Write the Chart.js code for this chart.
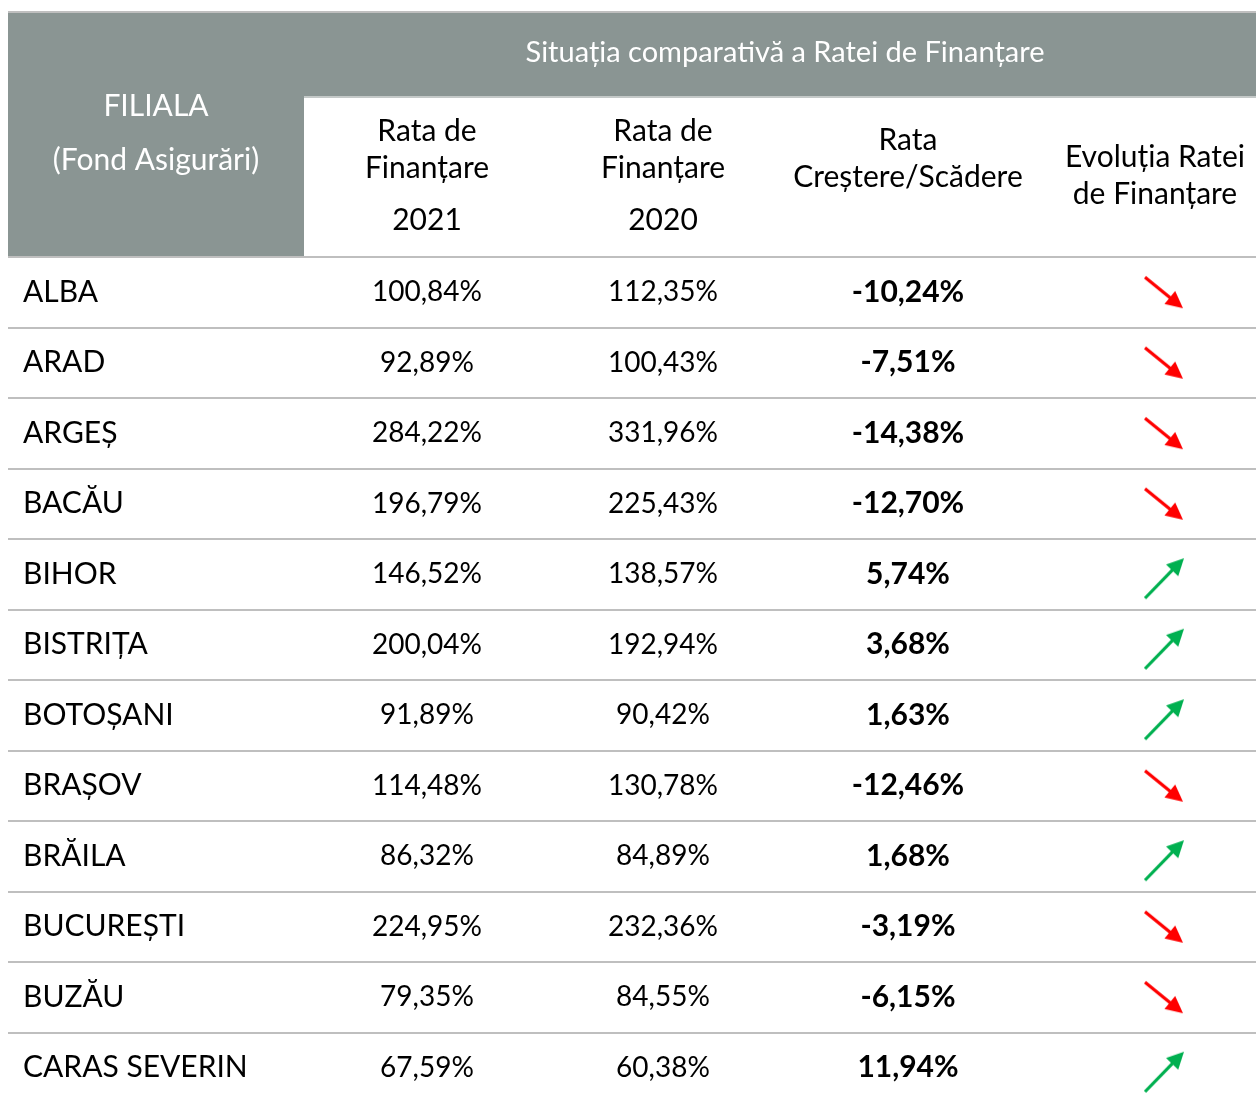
<!DOCTYPE html>
<html><head><meta charset="utf-8">
<script src="https://cdn.jsdelivr.net/npm/chart.js@4/dist/chart.umd.min.js"></script>
<style>html,body{margin:0;padding:0;background:#fff;overflow:hidden}#wrap{width:1256px;height:1110px}</style>
</head><body><div id="wrap"><canvas id="c" width="1256" height="1110"></canvas></div>
<script>
// ---- data ----
const branches = ['ALBA','ARAD','ARGEȘ','BACĂU','BIHOR','BISTRIȚA','BOTOȘANI','BRAȘOV','BRĂILA','BUCUREȘTI','BUZĂU','CARAS SEVERIN'];
const rate2021 = [100.84,92.89,284.22,196.79,146.52,200.04,91.89,114.48,86.32,224.95,79.35,67.59];
const rate2020 = [112.35,100.43,331.96,225.43,138.57,192.94,90.42,130.78,84.89,232.36,84.55,60.38];
const changeRate = [-10.24,-7.51,-14.38,-12.70,5.74,3.68,1.63,-12.46,1.68,-3.19,-6.15,11.94];
const titleText = 'Situația comparativă a Ratei de Finanțare';
const rowHeaderText = ['FILIALA','(Fond Asigurări)'];
const colHeaderText = [['Rata de','Finanțare','2021'],['Rata de','Finanțare','2020'],['Rata','Creștere/Scădere'],['Evoluția Ratei','de Finanțare']];

// ---- layout / style ----
const FONT = 'Lato, "Open Sans", sans-serif';
const HEAD_GRAY = '#8a9593';
const LINE_GRAY = '#bfbfbf';
const colX = {name: 23, c2021: 427, c2020: 663, change: 908, trend: 1164};
const fmt = v => v.toFixed(2).replace('.', ',') + '%';

function arrowCanvas(up) {
  const s = 56, c = document.createElement('canvas');
  c.width = s; c.height = s;
  const g = c.getContext('2d');
  const col = up ? '#00b050' : '#ff0000';
  const cx = s/2, cy = s/2;
  let tail, tip;
  if (up) { tail = [cx-19, cy+24]; tip = [cx+20, cy-16]; }
  else    { tail = [cx-19, cy-15]; tip = [cx+19, cy+16]; }
  const dx = tip[0]-tail[0], dy = tip[1]-tail[1], L = Math.hypot(dx, dy);
  const ux = dx/L, uy = dy/L, px = -uy, py = ux;
  const hl = 17, hw = 8.5;
  const bx = tip[0]-ux*hl, by = tip[1]-uy*hl;
  g.strokeStyle = col; g.lineWidth = 3.2; g.lineCap = 'butt';
  g.beginPath(); g.moveTo(tail[0], tail[1]); g.lineTo(bx+ux*2, by+uy*2); g.stroke();
  g.fillStyle = col;
  g.beginPath(); g.moveTo(tip[0], tip[1]); g.lineTo(bx+px*hw, by+py*hw); g.lineTo(bx-px*hw, by-py*hw); g.closePath(); g.fill();
  return c;
}
const upArrow = arrowCanvas(true), downArrow = arrowCanvas(false);

const headerPlugin = {
  id: 'header',
  beforeDraw(chart) {
    const ctx = chart.ctx, a = chart.chartArea;
    const top = 11, subTop = 96, leftW = 304;
    ctx.save();
    ctx.fillStyle = LINE_GRAY; ctx.fillRect(a.left, top, a.right - a.left, 2);
    ctx.fillStyle = HEAD_GRAY; ctx.fillRect(a.left, top + 2, a.right - a.left, a.top - top - 2);
    ctx.fillStyle = '#fff'; ctx.fillRect(leftW, subTop + 1, a.right - leftW, a.top - subTop - 1);
    ctx.fillStyle = '#c4c9c8'; ctx.fillRect(leftW, subTop, a.right - leftW, 2);
    ctx.textAlign = 'center'; ctx.textBaseline = 'middle';
    ctx.fillStyle = '#fff';
    ctx.font = '29px ' + FONT;
    ctx.fillText(titleText, 785, 53);
    ctx.font = '30px ' + FONT;
    ctx.fillText(rowHeaderText[0], 156, 106);
    ctx.fillText(rowHeaderText[1], 156, 160);
    ctx.fillStyle = '#000';
    const xs = chart.scales.x;
    const hx = [colX.c2021, colX.c2020, colX.change, 1155];
    const hy = [[131,168,220],[131,168,220],[140,177],[157,194]];
    colHeaderText.forEach((lines, i) => {
      lines.forEach((t, j) => ctx.fillText(t, xs.getPixelForValue(hx[i]), hy[i][j]));
    });
    ctx.restore();
  },
  afterDatasetsDraw(chart) {
    const ctx = chart.ctx;
    ctx.save();
    ctx.textBaseline = 'middle';
    ctx.fillStyle = '#000';
    chart.data.datasets.forEach((ds, di) => {
      if (!ds.textCol) return;
      const meta = chart.getDatasetMeta(di);
      ctx.font = (ds.bold ? '700 ' : '') + (ds.size || 28) + 'px ' + FONT;
      ctx.textAlign = ds.align || 'center';
      meta.data.forEach((el, i) => {
        ctx.fillText(ds.data[i].t, el.x, el.y);
      });
    });
    ctx.restore();
  }
};

const mk = (x, arr, f) => arr.map((v, i) => ({x: x, y: branches[i], t: f(v)}));

new Chart(document.getElementById('c'), {
  type: 'scatter',
  data: {
    datasets: [
      {label: 'Filiala', data: mk(colX.name, branches, v => v), textCol: true, align: 'left', size: 30, pointRadius: 0},
      {label: 'Rata 2021', data: mk(colX.c2021, rate2021, fmt), textCol: true, size: 28, pointRadius: 0},
      {label: 'Rata 2020', data: mk(colX.c2020, rate2020, fmt), textCol: true, size: 28, pointRadius: 0},
      {label: 'Crestere/Scadere', data: mk(colX.change, changeRate, fmt), textCol: true, bold: true, size: 30, pointRadius: 0},
      {label: 'Evolutie', data: mk(colX.trend, changeRate, v => ''), pointRadius: 3,
       pointStyle: changeRate.map(v => v >= 0 ? upArrow : downArrow)}
    ]
  },
  plugins: [headerPlugin],
  options: {
    responsive: false,
    animation: false,
    devicePixelRatio: 1,
    layout: {autoPadding: false, padding: {left: 8, right: 0, top: 257, bottom: 7}},
    plugins: {legend: {display: false}, tooltip: {enabled: false}},
    events: [],
    scales: {
      x: {type: 'linear', min: 8, max: 1256, display: false},
      y: {type: 'category', labels: branches, offset: true,
          grid: {offset: true, color: LINE_GRAY, lineWidth: 2, drawTicks: false},
          border: {display: false},
          ticks: {display: false}}
    }
  }
});
</script></body></html>
